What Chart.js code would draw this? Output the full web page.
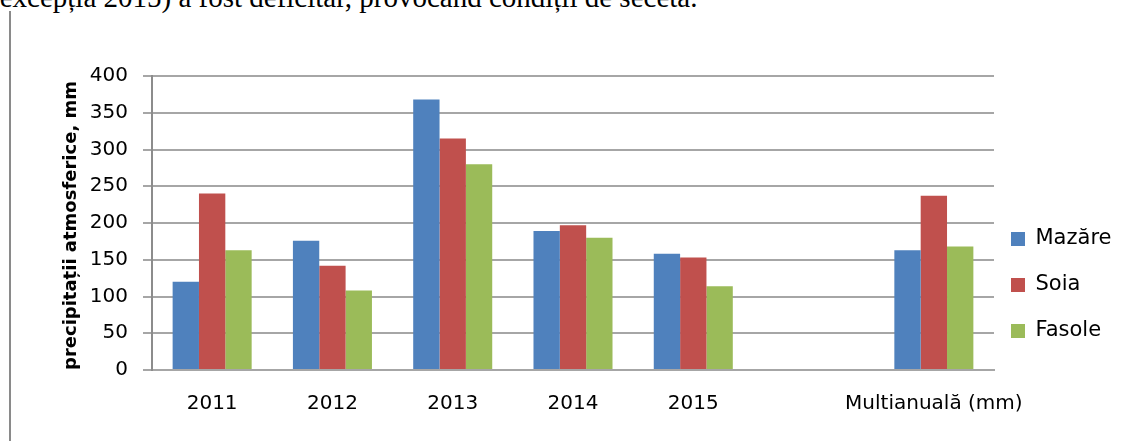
<!DOCTYPE html>
<html>
<head>
<meta charset="utf-8">
<script src="https://cdn.jsdelivr.net/npm/chart.js@4/dist/chart.umd.min.js"></script>
<style>
  html, body { margin: 0; padding: 0; background: #fff; width: 1126px; height: 441px; overflow: hidden; }
  #wrap { position: relative; width: 1126px; height: 441px; overflow: hidden; }
  #doctext { position: absolute; left: -10px; top: -17px; font-family: 'Liberation Serif', serif; font-size: 29px; line-height: 29px; color: #000; white-space: nowrap; }
  #frame { position: absolute; left: 9px; top: 11px; width: 2px; height: 440px; background: #8a8a8a; }
  #c { position: absolute; left: 0; top: 0; }
</style>
</head>
<body>
<div id="wrap">
  <div id="doctext">(excepția 2015) a fost deficitar, provocând condiții de secetă.</div>
  <div id="frame"></div>
  <canvas id="c" width="1126" height="441"></canvas>
</div>
<script>
const categories = ['2011', '2012', '2013', '2014', '2015', '', 'Multianuală (mm)'];
const mazare = [120, 176, 368, 189, 158, null, 163];
const soia   = [240, 142, 315, 197, 153, null, 237];
const fasole = [163, 108, 280, 180, 114, null, 168];
const yTicks = [0, 50, 100, 150, 200, 250, 300, 350, 400];
const seriesNames = ['Mazăre', 'Soia', 'Fasole'];
const yTitle = 'precipitații atmosferice, mm';

Chart.defaults.font.family = "'DejaVu Sans', sans-serif";
Chart.defaults.color = '#000';

const legendNudge = {
  id: 'legendNudge',
  afterLayout(chart) {
    const l = chart.legend;
    if (!l) return;
    l.left -= 8; l.right -= 8;
    l.top -= 3.5; l.bottom -= 3.5;
  }
};

new Chart(document.getElementById('c'), {
  type: 'bar',
  data: {
    labels: categories,
    datasets: [
      { label: seriesNames[0], data: mazare, backgroundColor: '#4F81BD' },
      { label: seriesNames[1], data: soia, backgroundColor: '#C0504D' },
      { label: seriesNames[2], data: fasole, backgroundColor: '#9BBB59' }
    ]
  },
  options: {
    responsive: false,
    animation: false,
    layout: { padding: { left: 9, top: 76, right: 6, bottom: 25 } },
    datasets: { bar: { categoryPercentage: 0.657, barPercentage: 1.0 } },
    scales: {
      x: {
        grid: { display: false, drawTicks: false },
        border: { display: true, color: '#a6a6a6', width: 2 },
        ticks: { font: { size: 20 }, color: '#000', padding: 22, maxRotation: 0, autoSkip: false },
        afterFit(scale) { scale.height = 46; }
      },
      y: {
        min: 0, max: 400,
        afterBuildTicks(scale) { scale.ticks = yTicks.map(v => ({ value: v })); },
        afterFit(scale) { scale.width = 143; },
        grid: { color: '#a6a6a6', lineWidth: 2, tickLength: 9, drawTicks: true },
        border: { display: true, color: '#8c8c8c', width: 2 },
        ticks: { font: { size: 20 }, color: '#000', padding: 15 },
        title: {
          display: true, text: yTitle, color: '#000', align: 'start',
          font: { size: 18, weight: 'bold' },
          padding: { top: 52, bottom: 0 }
        }
      }
    },
    plugins: {
      legend: {
        position: 'right', align: 'end', fullSize: false, maxWidth: 126,
        labels: { boxWidth: 14, boxHeight: 14, padding: 25, font: { size: 21 }, color: '#000' }
      },
      tooltip: { enabled: false }
    }
  },
  plugins: [legendNudge]
});
</script>
</body>
</html>
